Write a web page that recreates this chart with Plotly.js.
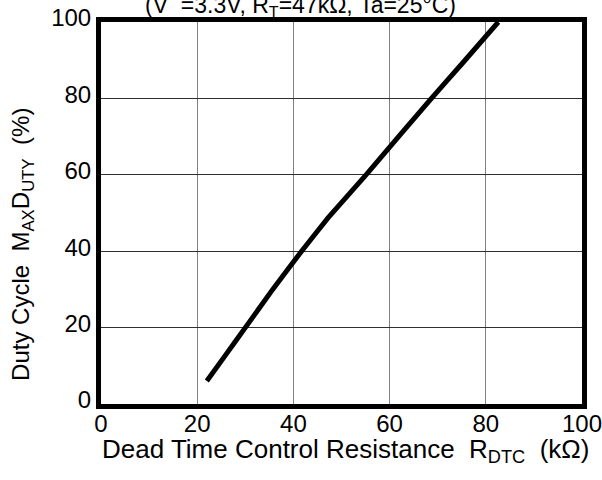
<!DOCTYPE html>
<html>
<head>
<meta charset="utf-8">
<script src="https://cdn.plot.ly/plotly-3.0.1.min.js"></script>
<style>html,body{margin:0;padding:0;background:#fff;}#chart{width:602px;height:480px;}</style>
</head>
<body>
<div id="chart"></div>
<script>
var resistance = [22, 26, 30, 35.7, 41.7, 47.2, 55.1, 62, 68.7, 75, 82.6];
var dutyCycle  = [6, 13, 20, 30, 40, 48.7, 60, 70.2, 80, 89, 100];
var xTicks = [0, 20, 40, 60, 80, 100];
var yTicks = [0, 20, 40, 60, 80, 100];
var xTitle = 'Dead Time Control Resistance  R<sub>DTC</sub>  (kΩ)';
var yTitle = 'Duty Cycle  M<sub>AX</sub>D<sub>UTY</sub>  (%)';
var topTitle = '(V  =3.3V, R<sub>T</sub>=47kΩ, Ta=25°C)';

var fam = 'Liberation Sans, Arial, sans-serif';
var tickFont = {family: fam, size: 24, color: '#000'};
var xTitleFont = {family: fam, size: 26, color: '#000'};
var yTitleFont = {family: fam, size: 24, color: '#000'};
var topFont = {family: fam, size: 23, color: '#000'};

var trace = {
  x: resistance, y: dutyCycle, mode: 'lines', type: 'scatter',
  line: {color: '#000', width: 5, shape: 'spline', smoothing: 0.2},
  cliponaxis: true, hoverinfo: 'none'
};

var layout = {
  width: 602, height: 480,
  margin: {l: 101, r: 20, t: 22, b: 76},
  paper_bgcolor: '#fff', plot_bgcolor: '#fff',
  font: tickFont,
  showlegend: false,
  xaxis: {
    range: [0, 100], tickvals: xTicks, ticktext: xTicks.map(String),
    showgrid: true, gridcolor: '#808080', gridwidth: 1,
    showline: true, linecolor: '#000', linewidth: 5, mirror: true,
    ticks: '', zeroline: false, tickfont: tickFont,
    ticklabeloverflow: 'allow', ticklabelstandoff: -6
  },
  yaxis: {
    range: [0, 100], tickvals: yTicks, ticktext: yTicks.map(String),
    showgrid: true, gridcolor: '#303030', gridwidth: 1,
    showline: true, linecolor: '#000', linewidth: 5, mirror: true,
    ticks: '', zeroline: false, tickfont: tickFont,
    ticklabeloverflow: 'allow', ticklabelshift: -4
  },
  annotations: [{
    text: topTitle,
    xref: 'paper', yref: 'paper', x: 0.415, y: 1.0, xanchor: 'center', yanchor: 'bottom',
    yshift: -1, showarrow: false, font: topFont
  }, {
    text: xTitle,
    xref: 'paper', yref: 'paper', x: 0.508, y: -0.108, yshift: -5, xanchor: 'center', yanchor: 'middle',
    showarrow: false, font: xTitleFont
  }, {
    text: yTitle, textangle: -90,
    xref: 'paper', yref: 'paper', x: 0, xshift: -78, y: 0.4164, xanchor: 'center', yanchor: 'middle',
    showarrow: false, font: yTitleFont
  }]
};

Plotly.newPlot('chart', [trace], layout, {staticPlot: true, displayModeBar: false});
</script>
</body>
</html>
